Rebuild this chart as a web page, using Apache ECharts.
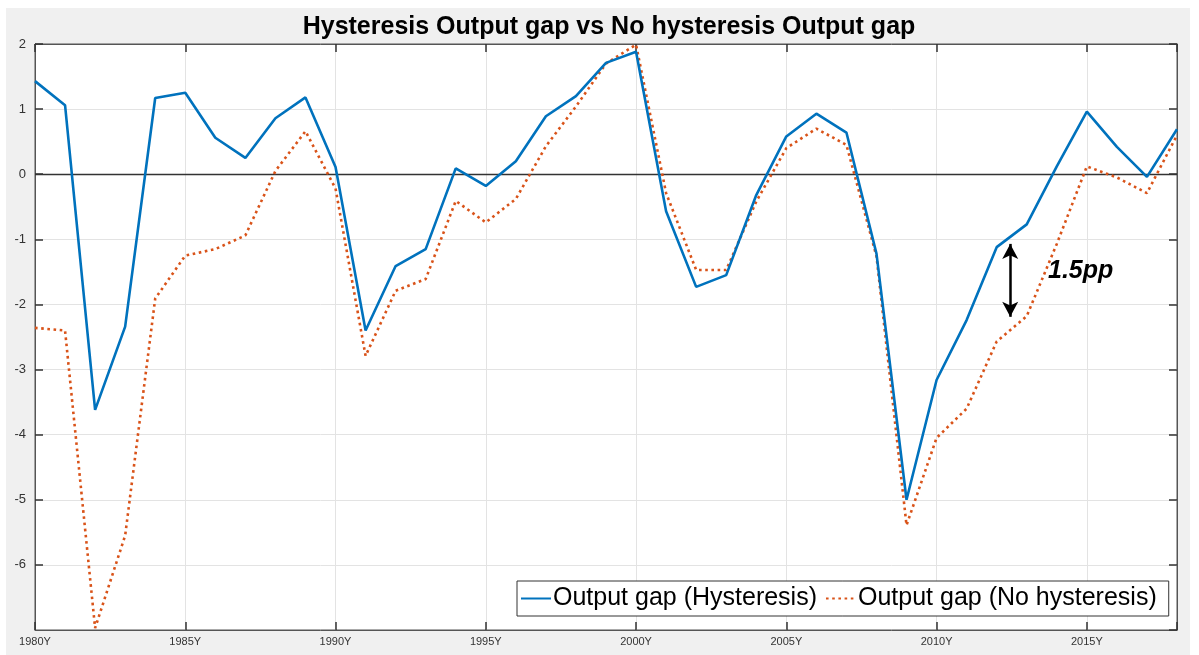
<!DOCTYPE html>
<html>
<head>
<meta charset="utf-8">
<script src="https://cdn.jsdelivr.net/npm/echarts@6/dist/echarts.min.js"></script>
<style>
  html, body { margin: 0; padding: 0; background: #ffffff; }
  #bg { position: absolute; left: 6px; top: 8px; width: 1184px; height: 647px; background: #f0f0f0; }
  #chart { position: absolute; left: 0; top: 0; width: 1199px; height: 655px; }
</style>
</head>
<body>
<div id="bg"></div>
<div id="chart"></div>
<script>
const years = [1980,1981,1982,1983,1984,1985,1986,1987,1988,1989,
               1990,1991,1992,1993,1994,1995,1996,1997,1998,1999,
               2000,2001,2002,2003,2004,2005,2006,2007,2008,2009,
               2010,2011,2012,2013,2014,2015,2016,2017,2018];
const hysteresis = [1.43, 1.06, -3.62, -2.34, 1.17, 1.25, 0.56, 0.25, 0.86, 1.18,
                    0.11, -2.40, -1.41, -1.15, 0.09, -0.18, 0.20, 0.89, 1.20, 1.71,
                    1.88, -0.57, -1.73, -1.55, -0.32, 0.58, 0.93, 0.64, -1.22, -5.00,
                    -3.16, -2.24, -1.12, -0.77, 0.12, 0.96, 0.42, -0.04, 0.69];
const noHysteresis = [-2.36, -2.40, -6.97, -5.55, -1.91, -1.25, -1.15, -0.94, 0.05, 0.66,
                      -0.22, -2.79, -1.79, -1.61, -0.41, -0.74, -0.38, 0.43, 1.04, 1.70,
                      1.99, -0.29, -1.47, -1.47, -0.42, 0.40, 0.70, 0.45, -1.26, -5.39,
                      -4.05, -3.60, -2.57, -2.18, -1.07, 0.12, -0.05, -0.29, 0.60];
const seriesNames = ['Output gap (Hysteresis)', 'Output gap (No hysteresis)'];
const titleText = 'Hysteresis Output gap vs No hysteresis Output gap';
const annotationText = '1.5pp';
const annotationFrom = [2012.45, -1.07];
const annotationTo = [2012.45, -2.19];

const font = '"Liberation Sans", Arial, Helvetica, sans-serif';
const chart = echarts.init(document.getElementById('chart'), null, { renderer: 'canvas' });

const xCommon = {
  type: 'value', min: 1980, max: 2018, interval: 5,
  axisLine: { show: true, onZero: false, lineStyle: { color: '#555', width: 1 } },
  axisTick: { show: true, inside: true, length: 8, lineStyle: { color: '#333', width: 1.5 } },
  splitLine: { show: false }
};
const yCommon = {
  type: 'value', min: -7, max: 2, interval: 1,
  axisLine: { show: true, onZero: false, lineStyle: { color: '#555', width: 1 } },
  axisTick: { show: true, inside: true, length: 8, lineStyle: { color: '#333', width: 1.5 } },
  splitLine: { show: false }
};

chart.setOption({
  animation: false,
  backgroundColor: 'transparent',
  title: {
    text: titleText,
    left: 604, top: 10, textAlign: 'center',
    textStyle: { fontFamily: font, fontSize: 25, fontWeight: 'bold', color: '#000' }
  },
  grid: {
    left: 35, right: 22, top: 44, bottom: 25,
    show: true, backgroundColor: '#ffffff', borderColor: '#555', borderWidth: 1
  },
  legend: {
    data: seriesNames,
    left: 517, top: 581,
    orient: 'horizontal',
    backgroundColor: '#ffffff', borderColor: '#333', borderWidth: 1,
    padding: [5, 12, 5, 3],
    itemWidth: 30, itemHeight: 14, itemGap: 8,
    itemStyle: { opacity: 0 },
    textStyle: { fontFamily: font, fontSize: 25, color: '#000', padding: [0, 0, 0, -3] }
  },
  xAxis: [
    Object.assign({}, xCommon, {
      position: 'bottom',
      splitLine: { show: true, lineStyle: { color: '#e3e3e3', width: 1 } },
      axisLabel: {
        fontFamily: font, fontSize: 11, color: '#333', margin: 6,
        formatter: v => (v % 5 === 0 ? v + 'Y' : '')
      }
    }),
    Object.assign({}, xCommon, { position: 'top', axisLabel: { show: false } })
  ],
  yAxis: [
    Object.assign({}, yCommon, {
      position: 'left',
      splitLine: { show: true, lineStyle: { color: '#e3e3e3', width: 1 } },
      axisLabel: { fontFamily: font, fontSize: 13, color: '#333', margin: 9, showMinLabel: false }
    }),
    Object.assign({}, yCommon, { position: 'right', axisLabel: { show: false } })
  ],
  series: [
    {
      name: seriesNames[0], type: 'line',
      data: years.map((y, i) => [y, hysteresis[i]]),
      showSymbol: false, symbol: 'none',
      lineStyle: { color: '#0072BD', width: 2.6, type: 'solid' },
      itemStyle: { color: '#0072BD' },
      z: 4,
      markLine: {
        silent: true, symbol: ['arrow', 'arrow'], symbolSize: [12, 15],
        label: { show: false },
        lineStyle: { color: '#000', width: 2.5, type: 'solid' },
        data: [[{ coord: annotationFrom }, { coord: annotationTo }]]
      }
    },
    {
      name: seriesNames[1], type: 'line',
      data: years.map((y, i) => [y, noHysteresis[i]]),
      showSymbol: false, symbol: 'none',
      lineStyle: { color: '#D95319', width: 2.6, type: [2.6, 3.6] },
      itemStyle: { color: '#D95319' },
      z: 3,
      markLine: {
        silent: true, symbol: 'none',
        label: { show: false },
        lineStyle: { color: '#333', width: 1.3, type: 'solid' },
        data: [{ yAxis: 0 }],
        z: 1
      }
    }
  ],
  graphic: [
    {
      type: 'text', left: 1048, top: 259, z: 10,
      style: {
        text: annotationText, fill: '#000',
        font: 'italic bold 25px "Liberation Sans", Arial, sans-serif'
      }
    }
  ]
});
</script>
</body>
</html>
